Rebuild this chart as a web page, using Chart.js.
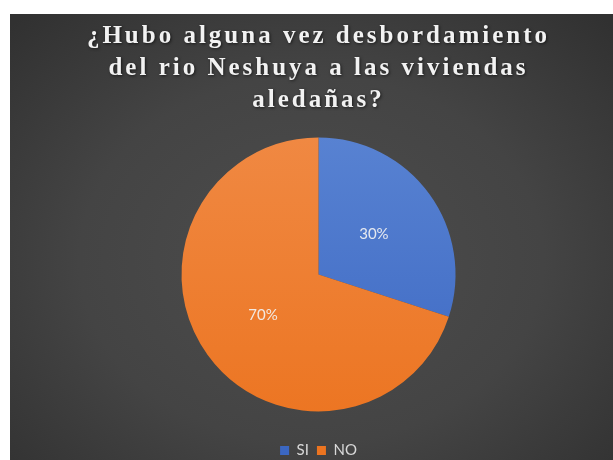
<!DOCTYPE html>
<html>
<head>
<meta charset="utf-8">
<script src="https://cdn.jsdelivr.net/npm/chart.js@4.4.1/dist/chart.umd.min.js"></script>
<style>
  html, body { margin: 0; padding: 0; background: #ffffff; }
  body { width: 613px; height: 460px; position: relative; overflow: hidden; }
  #frame {
    position: absolute; left: 10px; top: 14px; width: 603px; height: 446px;
    background: radial-gradient(ellipse 70% 75% at 50% 55%, #4d4d4d 0%, #444444 55%, #313131 100%);
  }
  canvas { display: block; }
</style>
</head>
<body>
<div id="frame"><canvas id="chart" width="603" height="446"></canvas></div>
<script>
// Survey answers
const categories = ['SI', 'NO'];
const percentages = [30, 70];
const titleLines = [
  '¿Hubo alguna vez desbordamiento',
  'del rio Neshuya a las viviendas',
  'aledañas?'
];

const sliceTop = ['#5a84d3', '#f08a45'];
const sliceBottom = ['#3b67c2', '#ec7420'];

function sliceFill(ctx) {
  const chart = ctx.chart;
  const area = chart.chartArea;
  if (!area) return sliceBottom[ctx.dataIndex];
  const g = chart.ctx.createLinearGradient(0, area.top, 0, area.bottom);
  g.addColorStop(0, sliceTop[ctx.dataIndex]);
  g.addColorStop(1, sliceBottom[ctx.dataIndex]);
  return g;
}

// Spaced-out serif title with a soft glow
const spacedTitle = {
  id: 'spacedTitle',
  afterLayout(chart) {
    const block = chart.titleBlock;
    if (!block || block._spaced) return;
    const orig = block.draw;
    block.draw = function () {
      const c = chart.ctx;
      c.save();
      c.letterSpacing = '3px';
      c.shadowColor = 'rgba(0,0,0,0.6)';
      c.shadowBlur = 3;
      c.shadowOffsetX = 1;
      c.shadowOffsetY = 1;
      orig.apply(this, arguments);
      c.restore();
    };
    block._spaced = true;
  }
};

// Percentage labels at the middle of each slice
const sliceLabels = {
  id: 'sliceLabels',
  afterDatasetsDraw(chart) {
    const c = chart.ctx;
    const meta = chart.getDatasetMeta(0);
    c.save();
    c.font = '15px Lato, "Liberation Sans", sans-serif';
    c.fillStyle = 'rgba(242,242,242,0.92)';
    c.textAlign = 'center';
    c.textBaseline = 'middle';
    meta.data.forEach((arc, i) => {
      const p = arc.tooltipPosition();
      c.fillText(percentages[i] + '%', p.x, p.y);
    });
    c.restore();
  }
};

new Chart(document.getElementById('chart'), {
  type: 'pie',
  data: {
    labels: categories,
    datasets: [{
      data: percentages,
      backgroundColor: sliceFill,
      borderWidth: 0,
      radius: 137
    }]
  },
  options: {
    responsive: false,
    animation: false,
    layout: { padding: { left: 14, right: 0, top: 0, bottom: -8 } },
    plugins: {
      tooltip: { enabled: false },
      title: {
        display: true,
        text: titleLines,
        color: '#f2f2f2',
        font: { family: '"Liberation Serif", "Times New Roman", serif', size: 25, weight: 'bold', lineHeight: 1.28 },
        padding: { top: 7, bottom: -3 }
      },
      legend: {
        display: true,
        position: 'bottom',
        labels: {
          color: '#d9d9d9',
          font: { family: 'Lato, "Liberation Sans", sans-serif', size: 15 },
          boxWidth: 9,
          boxHeight: 9,
          padding: 8
        }
      }
    }
  },
  plugins: [spacedTitle, sliceLabels]
});
</script>
</body>
</html>
